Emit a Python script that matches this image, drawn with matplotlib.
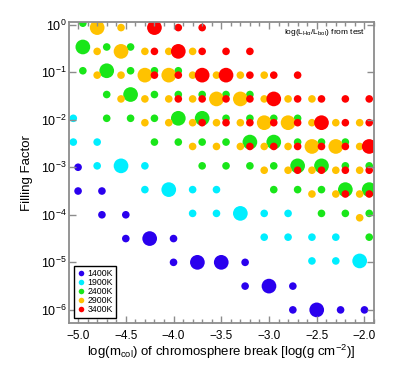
import numpy as np
import matplotlib
matplotlib.use('Agg')
import matplotlib.pyplot as plt
from matplotlib.lines import Line2D
from matplotlib.ticker import MultipleLocator, FixedLocator, NullLocator

# fonts: helvetica-like for everything incl. the 10^x labels
plt.rcParams['font.family'] = 'Liberation Sans'
plt.rcParams['mathtext.fontset'] = 'custom'
plt.rcParams['mathtext.rm'] = 'Liberation Sans'
plt.rcParams['mathtext.it'] = 'Liberation Sans:italic'
plt.rcParams['mathtext.bf'] = 'Liberation Sans:bold'

# ---- data: log(m_col), log(filling factor), big marker flag (one row per filling factor level)
x1400 = [-5.0, -5.0, -4.75, -4.75, -4.5, -4.5, -4.25, -4.0, -4.0, -3.75,
         -3.5, -3.25, -3.25, -3.0, -2.75, -2.75, -2.5, -2.25, -2.0]
f1400 = [-3.0, -3.5, -3.5, -4.0, -4.0, -4.5, -4.5, -4.5, -5.0, -5.0,
         -5.0, -5.0, -5.5, -5.5, -5.5, -6.0, -6.0, -6.0, -6.0]
b1400 = [0, 0, 0, 0, 0, 0, 1, 0, 0, 1, 1, 0, 0, 1, 0, 0, 1, 0, 0]

x1900 = [-5.0, -5.0, -4.75, -4.75, -4.5, -4.25, -4.25, -4.0, -3.75, -3.75, -3.5,
         -3.5, -3.25, -3.0, -3.0, -2.75, -2.75, -2.5, -2.5, -2.25, -2.25, -2.0]
f1900 = [-2.0, -2.5, -2.5, -3.0, -3.0, -3.0, -3.5, -3.5, -3.5, -4.0, -3.5,
         -4.0, -4.0, -4.0, -4.5, -4.0, -4.5, -4.5, -5.0, -4.5, -5.0, -5.0]
b1900 = [0, 0, 0, 0, 1, 0, 0, 1, 0, 0, 0, 0, 1, 0, 0, 0, 0, 0, 0, 0, 0, 1]

x2400 = [-5.0,
         -5.0, -4.75, -4.5,
         -5.0, -4.75, -4.5, -4.25, -4.0,
         -4.75, -4.5, -4.25, -4.0, -3.75, -3.5, -3.25,
         -4.75, -4.5, -4.25, -4.0, -3.75, -3.5, -3.25, -3.0, -2.75,
         -4.25, -4.0, -3.75, -3.5, -3.25, -3.0, -2.75, -2.5, -2.25,
         -3.75, -3.5, -3.25, -3.0, -2.75, -2.5, -2.25, -2.0,
         -3.0, -2.75, -2.5, -2.25, -2.0,
         -2.5, -2.25, -2.0,
         -2.0]
f2400 = [0.0] + [-0.5] * 3 + [-1.0] * 5 + [-1.5] * 7 + [-2.0] * 9 + [-2.5] * 9 \
        + [-3.0] * 8 + [-3.5] * 5 + [-4.0] * 3 + [-4.5]
b2400 = [0,
         1, 0, 0,
         0, 1, 0, 0, 0,
         0, 1, 0, 0, 0, 0, 0,
         0, 0, 0, 1, 1, 0, 0, 0, 0,
         0, 0, 0, 0, 1, 1, 0, 0, 0,
         0, 0, 0, 0, 1, 1, 0, 0,
         0, 0, 0, 1, 1,
         0, 0, 0,
         0]

x2900 = [-4.75, -4.5,
         -4.75, -4.5, -4.25, -4.0, -3.75,
         -4.75, -4.5, -4.25, -4.0, -3.75, -3.5, -3.25, -3.0,
         -4.5, -4.25, -4.0, -3.75, -3.5, -3.25, -3.0, -2.75, -2.5,
         -4.25, -4.0, -3.75, -3.5, -3.25, -3.0, -2.75, -2.5, -2.25, -2.0,
         -3.75, -3.5, -3.25, -3.0, -2.75, -2.5, -2.25, -2.0,
         -3.0, -2.75, -2.5, -2.25, -2.0,
         -2.5, -2.25, -2.0,
         -2.0]
f2900 = [0.0] * 2 + [-0.5] * 5 + [-1.0] * 8 + [-1.5] * 9 + [-2.0] * 10 \
        + [-2.5] * 8 + [-3.0] * 5 + [-3.5] * 3 + [-4.0]
b2900 = [1, 0,
         0, 1, 0, 0, 0,
         0, 0, 1, 1, 0, 0, 0, 0,
         0, 0, 0, 0, 1, 1, 0, 0, 0,
         0, 0, 0, 0, 0, 1, 1, 0, 0, 0,
         0, 0, 0, 0, 0, 1, 1, 0,
         0, 0, 0, 0, 0,
         0, 0, 0,
         0]

x3400 = [-4.25, -4.0, -3.75,
         -4.25, -4.0, -3.75, -3.5, -3.25,
         -4.25, -4.0, -3.75, -3.5, -3.25, -3.0, -2.75,
         -4.0, -3.75, -3.5, -3.25, -3.0, -2.75, -2.5, -2.25, -2.0,
         -3.75, -3.5, -3.25, -3.0, -2.75, -2.5, -2.25, -2.0,
         -3.25, -3.0, -2.75, -2.5, -2.25, -2.0,
         -2.75, -2.5, -2.25, -2.0,
         -2.25, -2.0]
f3400 = [0.0] * 3 + [-0.5] * 5 + [-1.0] * 7 + [-1.5] * 9 + [-2.0] * 8 \
        + [-2.5] * 6 + [-3.0] * 4 + [-3.5] * 2
b3400 = [1, 0, 0,
         0, 1, 0, 0, 0,
         0, 0, 1, 1, 0, 0, 0,
         0, 0, 0, 0, 1, 0, 0, 0, 0,
         0, 0, 0, 0, 0, 1, 0, 0,
         0, 0, 0, 0, 0, 1,
         0, 0, 0, 0,
         0, 0]

labels = ['1400K', '1900K', '2400K', '2900K', '3400K']
colors = ['#2a00ee', '#00eeff', '#19e619', '#ffc200', '#ff0000']
yticks = [1e-6, 1e-5, 1e-4, 1e-3, 1e-2, 1e-1, 1.0]
# small shifts so overlapping models stay visible
dx = [0.0, -0.05, 0.05, -0.05, 0.05]
fy = [1.0, 1.07, 1.07, 0.865, 0.865]

fig = plt.figure(figsize=(3.95, 3.68), dpi=100)
ax = fig.add_axes([0.1747, 0.1223, 0.7721, 0.8172])

for xs, fs, bs, c, ddx, ffy in zip([x1400, x1900, x2400, x2900, x3400],
                                   [f1400, f1900, f2400, f2900, f3400],
                                   [b1400, b1900, b2400, b2900, b3400],
                                   colors, dx, fy):
    xs = np.array(xs) + ddx
    ys = 10.0 ** np.array(fs) * ffy
    sz = np.where(np.array(bs) == 1, 112, 30)
    ax.scatter(xs, ys, s=sz, c=c, edgecolors='none')

ax.set_yscale('log')
ax.set_xlim(-5.095, -1.9)
ax.set_ylim(5.3e-7, 1.12)
ax.xaxis.set_major_locator(MultipleLocator(0.5))
ax.xaxis.set_minor_locator(MultipleLocator(0.1))
ax.yaxis.set_major_locator(FixedLocator(yticks))
ax.yaxis.set_minor_locator(NullLocator())

for s in ax.spines.values():
    s.set_color('#8c8c8c')
    s.set_linewidth(1.3)
ax.tick_params(which='both', direction='in', top=True, right=True, color='#8c8c8c', labelsize=9)
ax.tick_params(which='major', length=5, width=1)
ax.tick_params(which='minor', length=3, width=1)
ax.tick_params(axis='x', pad=5, labelsize=8.5)
ax.tick_params(axis='y', pad=1.5)

ax.set_xlabel(r'log(m$_{\rm col}$) of chromosphere break [log(g cm$^{-2}$)]', fontsize=9.5, labelpad=0.5)
ax.set_ylabel('Filling Factor', fontsize=9.5, labelpad=6)

ax.text(0.97, 0.985, r'log(L$_{\rm H\alpha}$/L$_{\rm bol}$) from test', transform=ax.transAxes,
        ha='right', va='top', fontsize=6)

handles = [Line2D([], [], ls='none', marker='o', ms=4, mfc=c, mec='none') for c in colors]
leg = ax.legend(handles, labels, loc='lower left', fontsize=6.3, frameon=True, fancybox=False,
                framealpha=1, edgecolor='black', borderpad=0.4, handlelength=0.8,
                handletextpad=0.3, labelspacing=0.0, borderaxespad=0.6)
leg.get_frame().set_linewidth(1.0)

fig.savefig('out.png', dpi=100)
